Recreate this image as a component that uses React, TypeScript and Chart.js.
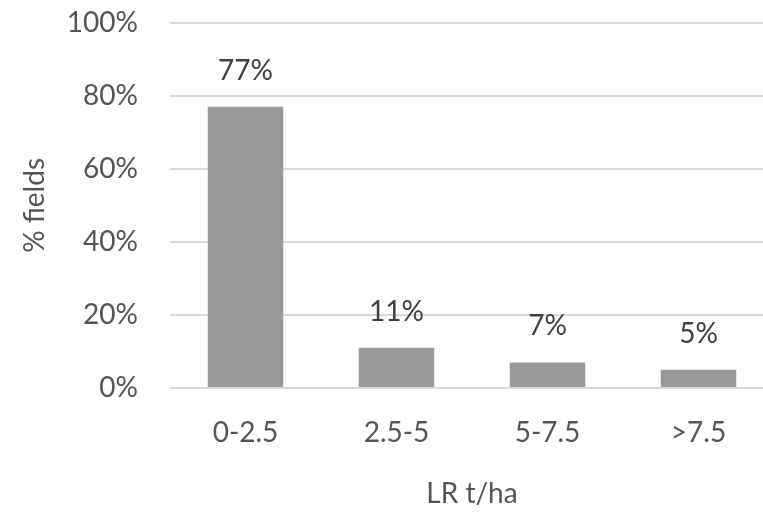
import React, { useEffect, useRef } from "react";
import { Chart, registerables } from "chart.js";

Chart.register(...registerables);

const categories = ["0-2.5", "2.5-5", "5-7.5", ">7.5"];
const values = [77, 11, 7, 5];
const yTicks = [0, 20, 40, 60, 80, 100];

const FONT = "Lato, 'Open Sans', sans-serif";

const valueLabels = {
  id: "valueLabels",
  afterDatasetsDraw(chart: any) {
    const { ctx } = chart;
    const meta = chart.getDatasetMeta(0);
    ctx.save();
    ctx.fillStyle = "#404040";
    ctx.font = `28px ${FONT}`;
    ctx.textAlign = "center";
    ctx.textBaseline = "bottom";
    meta.data.forEach((bar: any, i: number) => {
      ctx.fillText(values[i] + "%", bar.x, bar.y - 22);
    });
    ctx.restore();
  },
};

export default function App() {
  const ref = useRef<HTMLCanvasElement>(null);
  useEffect(() => {
    document.body.style.margin = "0";
    document.body.style.overflow = "hidden";
    document.documentElement.style.overflow = "hidden";
    const chart = new Chart(ref.current!, {
      type: "bar",
      data: {
        labels: categories,
        datasets: [
          {
            data: values,
            backgroundColor: "#9a9a9a",
            barPercentage: 0.5,
            categoryPercentage: 1,
          },
        ],
      },
      options: {
        animation: false,
        responsive: false,
        layout: { padding: { top: 0, right: 16, bottom: 0, left: 0 } },
        plugins: { legend: { display: false }, tooltip: { enabled: false } },
        scales: {
          x: {
            grid: { display: false, drawTicks: false },
            border: { display: false },
            ticks: { color: "#555555", font: { size: 28, family: FONT }, padding: 28 },
            title: {
              display: true,
              text: "LR t/ha",
              color: "#555555",
              font: { size: 28, family: FONT },
              padding: { top: 10, bottom: 8 },
            },
            afterFit(scale: any) {
              scale.height = 519 - 388;
            },
          },
          y: {
            min: 0,
            max: 100,
            afterBuildTicks(scale: any) {
              scale.ticks = yTicks.map((v) => ({ value: v }));
            },
            grid: { color: "#d9d9d9", lineWidth: 2, drawTicks: false },
            border: { display: false },
            ticks: {
              color: "#555555",
              font: { size: 28, family: FONT },
              padding: 32,
              callback: (v: any) => v + "%",
            },
            title: {
              display: true,
              text: "% fields",
              color: "#555555",
              font: { size: 28, family: FONT },
              padding: { top: 18, bottom: 0 },
            },
            afterFit(scale: any) {
              scale.width = 170;
            },
          },
        },
      },
      plugins: [valueLabels],
    });
    return () => chart.destroy();
  }, []);
  return (
    <div style={{ width: 790, height: 519, overflow: "hidden" }}>
      <canvas ref={ref} width={790} height={545} style={{ display: "block", marginTop: -26 }} />
    </div>
  );
}
